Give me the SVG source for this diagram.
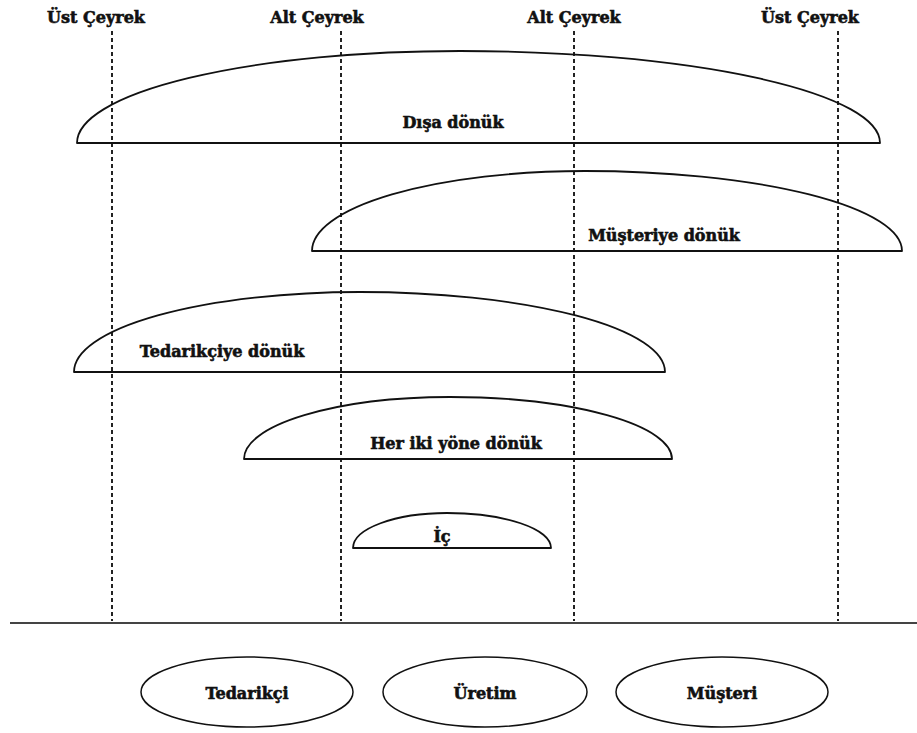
<svg xmlns="http://www.w3.org/2000/svg" width="917" height="733" viewBox="0 0 917 733">
  <style>
    text { font-family: "DejaVu Serif", "Liberation Serif", serif; font-weight: bold; font-size: 16px; fill: #111; stroke: #111; stroke-width: 0.6; text-anchor: middle; }
    .guide { stroke: #222; stroke-width: 2; stroke-dasharray: 4 3; fill: none; }
    .dome { stroke: #111; stroke-width: 1.8; fill: none; stroke-linejoin: round; }
    .stage { stroke: #111; stroke-width: 1.5; fill: none; }
    .axis { stroke: #444; stroke-width: 2; }
  </style>
  <rect width="917" height="733" fill="#fff"/>

  <!-- quartile labels -->
  <g id="quartile-labels">
    <text x="96" y="23">Üst Çeyrek</text>
    <text x="317" y="23">Alt Çeyrek</text>
    <text x="574" y="23">Alt Çeyrek</text>
    <text x="810" y="23">Üst Çeyrek</text>
  </g>

  <!-- dashed quartile guides -->
  <g id="guides">
    <line class="guide" x1="112" y1="31" x2="112" y2="621"/>
    <line class="guide" x1="341" y1="31" x2="341" y2="621"/>
    <line class="guide" x1="574" y1="31" x2="574" y2="621"/>
    <line class="guide" x1="838" y1="31" x2="838" y2="621"/>
  </g>

  <!-- scope domes -->
  <g id="disa-donuk">
    <path class="dome" d="M77,143 A383,92 0 0 1 460,51 A420,92 0 0 1 880,143 Z"/>
    <text x="453" y="128">Dışa dönük</text>
  </g>
  <g id="musteriye-donuk">
    <path class="dome" d="M312,251 A273,80 0 0 1 585,171 A317,80 0 0 1 902,251 Z"/>
    <text x="664" y="241">Müşteriye dönük</text>
  </g>
  <g id="tedarikciye-donuk">
    <path class="dome" d="M74,372 A286,80 0 0 1 360,292 A305,80 0 0 1 665,372 Z"/>
    <text x="222" y="357">Tedarikçiye dönük</text>
  </g>
  <g id="her-iki-yone-donuk">
    <path class="dome" d="M244,459 A206,62 0 0 1 450,397 A222,62 0 0 1 672,459 Z"/>
    <text x="456" y="449">Her iki yöne dönük</text>
  </g>
  <g id="ic">
    <path class="dome" d="M353,548 A94,35 0 0 1 447,513 A104,35 0 0 1 551,548 Z"/>
    <text x="442" y="542">İç</text>
  </g>

  <!-- baseline -->
  <line class="axis" x1="10" y1="623" x2="917" y2="623"/>

  <!-- supply chain stages -->
  <g id="tedarikci">
    <ellipse class="stage" cx="247" cy="692" rx="106" ry="35"/>
    <text x="247" y="699">Tedarikçi</text>
  </g>
  <g id="uretim">
    <ellipse class="stage" cx="485" cy="692" rx="102" ry="35"/>
    <text x="485" y="699">Üretim</text>
  </g>
  <g id="musteri">
    <ellipse class="stage" cx="722" cy="692" rx="106" ry="35"/>
    <text x="722" y="699">Müşteri</text>
  </g>
</svg>
